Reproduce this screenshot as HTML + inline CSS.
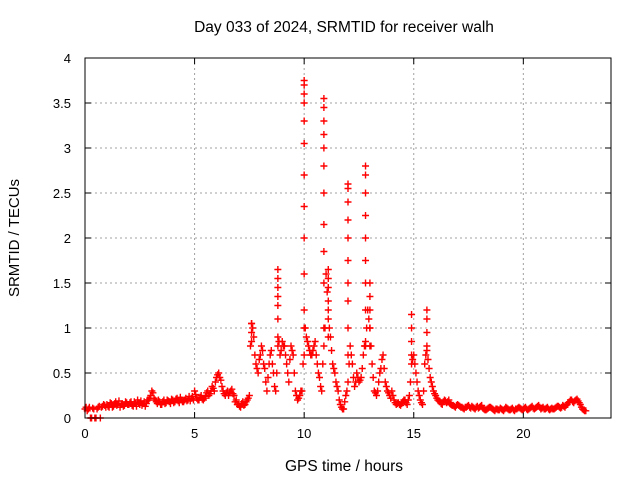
<!DOCTYPE html>
<html><head><meta charset="utf-8"><style>
html,body{margin:0;padding:0;background:#fff}
svg{display:block;font-family:"Liberation Sans",sans-serif}
</style></head><body>
<svg id="chart" width="640" height="480">
<rect width="640" height="480" fill="#fff"/>
<text x="344" y="32" font-size="15.5" text-anchor="middle">Day 033 of 2024, SRMTID for receiver walh</text>
<text x="344" y="471" font-size="15.5" text-anchor="middle">GPS time / hours</text>
<text transform="translate(19,238) rotate(-90)" font-size="15" text-anchor="middle">SRMTID / TECUs</text>
<g id="grid"></g><g id="ticks"></g><g id="marks"></g>
<rect x="85" y="58" width="526" height="360" fill="none" stroke="#000" stroke-width="1"/>
</svg>
<script>
const xTicks=[0,5,10,15,20];
const yTicks=[0,0.5,1,1.5,2,2.5,3,3.5,4];
const yTickLabels=["0","0.5","1","1.5","2","2.5","3","3.5","4"];
const baseStart=0, baseStep=0.1, base2Start=0.05;
const baseValues=[
0.1,0.08,0.12,0.0,0.1,0.0,0.12,0.0,0.13,0.14,
0.15,0.12,0.16,0.13,0.18,0.15,0.12,0.16,0.14,0.17,
0.15,0.18,0.13,0.16,0.2,0.15,0.14,0.18,0.16,0.2,
0.25,0.28,0.2,0.16,0.18,0.15,0.2,0.17,0.19,0.16,
0.2,0.18,0.22,0.17,0.2,0.18,0.22,0.2,0.19,0.24,
0.3,0.22,0.2,0.25,0.2,0.24,0.3,0.27,0.35,0.3,
0.45,0.5,0.42,0.3,0.25,0.3,0.28,0.32,0.25,0.2,
0.15,0.12,0.18,0.15,0.2,0.25,1.05,0.9,0.6,0.5,
0.7,0.75,0.55,0.3,0.6,0.75,0.5,0.3,0.8,0.7,
0.85,0.8,0.6,0.4,0.8,0.7,0.3,0.2,0.25,0.3,
1.2,0.9,0.8,0.7,0.75,0.85,0.6,0.45,0.3,0.8,
1.6,1.2,0.9,0.6,0.5,0.35,0.2,0.12,0.1,0.25,
0.4,0.8,0.6,0.35,0.5,0.4,0.45,0.7,0.85,1.2,
1.0,0.6,0.3,0.25,0.4,0.55,0.7,0.4,0.3,0.25,
0.3,0.2,0.15,0.17,0.14,0.18,0.2,0.15,0.25,0.6,
0.7,0.5,0.3,0.2,0.15,0.6,0.75,0.55,0.4,0.3,
0.25,0.2,0.18,0.15,0.2,0.17,0.2,0.15,0.14,0.12,
0.15,0.13,0.12,0.1,0.12,0.14,0.11,0.12,0.1,0.13,
0.12,0.14,0.1,0.09,0.11,0.12,0.1,0.08,0.1,0.09,
0.1,0.08,0.12,0.1,0.09,0.11,0.08,0.1,0.12,0.1,
0.1,0.12,0.09,0.11,0.13,0.1,0.12,0.14,0.1,0.12,
0.1,0.12,0.09,0.11,0.1,0.12,0.13,0.11,0.14,0.12,
0.15,0.18,0.2,0.17,0.2,0.19,0.15,0.1,0.08];
const base2Values=[
0.12,0.1,0.0,0.11,0.0,0.1,0.13,0.12,0.15,0.12,
0.13,0.17,0.12,0.16,0.14,0.19,0.15,0.13,0.18,0.15,
0.17,0.14,0.18,0.13,0.17,0.19,0.16,0.13,0.2,0.22,
0.3,0.22,0.18,0.2,0.15,0.18,0.16,0.2,0.18,0.21,
0.17,0.21,0.19,0.23,0.18,0.2,0.19,0.24,0.22,0.2,
0.26,0.2,0.23,0.21,0.22,0.28,0.25,0.3,0.33,0.4,
0.48,0.45,0.35,0.27,0.28,0.25,0.3,0.27,0.18,0.15,
0.13,0.16,0.14,0.18,0.22,0.8,1.0,0.7,0.55,0.65,
0.8,0.6,0.4,0.45,0.7,0.6,0.35,0.5,0.85,0.75,
0.8,0.7,0.5,0.65,0.75,0.5,0.25,0.22,0.3,0.6,
1.0,0.85,0.75,0.7,0.8,0.7,0.5,0.35,0.6,1.0,
1.4,1.0,0.75,0.55,0.4,0.3,0.15,0.1,0.18,0.3,
0.6,0.7,0.45,0.4,0.45,0.42,0.55,0.8,1.0,1.1,
0.8,0.45,0.28,0.3,0.5,0.65,0.55,0.35,0.28,0.22,
0.25,0.17,0.16,0.15,0.16,0.2,0.17,0.2,0.4,0.65,
0.6,0.4,0.25,0.17,0.3,0.7,0.65,0.45,0.35,0.27,
0.22,0.19,0.16,0.18,0.19,0.18,0.16,0.14,0.13,0.14,
0.14,0.12,0.11,0.12,0.13,0.12,0.13,0.11,0.12,0.11,
0.13,0.11,0.09,0.1,0.12,0.11,0.09,0.1,0.09,0.11,
0.09,0.1,0.11,0.09,0.1,0.09,0.1,0.11,0.11,0.09,
0.11,0.1,0.1,0.12,0.11,0.11,0.13,0.12,0.11,0.1,
0.11,0.1,0.1,0.1,0.11,0.13,0.12,0.12,0.13,0.14,
0.17,0.2,0.18,0.19,0.21,0.17,0.12,0.09,0.08];
const spikeTimes=[7.6,8.8,10.0,10.9,11.1,12.0,12.8,13.0,14.9,15.6];
const spikeValues=[
[0.85,0.95,1.05],
[0.9,1.1,1.25,1.35,1.45,1.55,1.65],
[0.7,1.0,1.6,2.0,2.35,2.7,3.05,3.3,3.5,3.6,3.7,3.75],
[1.0,1.5,1.85,2.15,2.5,2.8,3.0,3.15,3.3,3.45,3.55],
[0.9,1.1,1.3,1.45,1.55,1.65],
[0.7,1.0,1.3,1.5,1.75,2.0,2.2,2.4,2.55,2.6],
[0.8,1.2,1.5,1.75,2.0,2.25,2.5,2.7,2.8],
[0.8,1.0,1.2,1.35,1.5],
[0.7,0.85,1.0,1.15],
[0.8,0.95,1.1,1.2]];
const L=85,R=611,T=58,B=418,XMAX=24,YMAX=4;
const xs=v=>L+v/XMAX*(R-L);
const ys=v=>B-v/YMAX*(B-T);
const NS="http://www.w3.org/2000/svg";
function mk(tag,attrs,parent){const e=document.createElementNS(NS,tag);for(const k in attrs)e.setAttribute(k,attrs[k]);parent.appendChild(e);return e;}
const grid=document.getElementById('grid'),ticks=document.getElementById('ticks'),marks=document.getElementById('marks');
xTicks.forEach(t=>{const x=xs(t);
 if(t>0){const g=mk('line',{x1:x,y1:T,x2:x,y2:B,stroke:'#a0a0a0','stroke-dasharray':'2,3'},grid);
 
 }
 const tk=mk('path',{d:`M${x},${B}v-6M${x},${T}v6`,stroke:'#000'},ticks);
 
 
 const lb=mk('text',{x:x,y:B+20,'font-size':13,'text-anchor':'middle'},ticks);lb.textContent=String(t);
 
 });
yTicks.forEach((t,i)=>{const y=ys(t);
 if(t>0&&t<YMAX){const g=mk('line',{x1:L,y1:y,x2:R,y2:y,stroke:'#a0a0a0','stroke-dasharray':'2,3'},grid);
 
 }
 const tk=mk('path',{d:`M${L},${y}h6M${R},${y}h-6`,stroke:'#000'},ticks);
 
 
 const lb=mk('text',{x:71,y:y+5,'font-size':13,'text-anchor':'end'},ticks);lb.textContent=yTickLabels[i];
 
 });
function plus(t,v){const x=xs(t),y=ys(v);
 const p=mk('path',{d:`M${x-3.5},${y}h7M${x},${y-3.5}v7`,stroke:'#ff0000','stroke-width':1.4},marks);
 
 }
baseValues.forEach((v,i)=>plus(baseStart+i*baseStep,v));
base2Values.forEach((v,i)=>plus(base2Start+i*baseStep,v));
spikeTimes.forEach((t,i)=>spikeValues[i].forEach(v=>plus(t,v)));
</script>
</body></html>
